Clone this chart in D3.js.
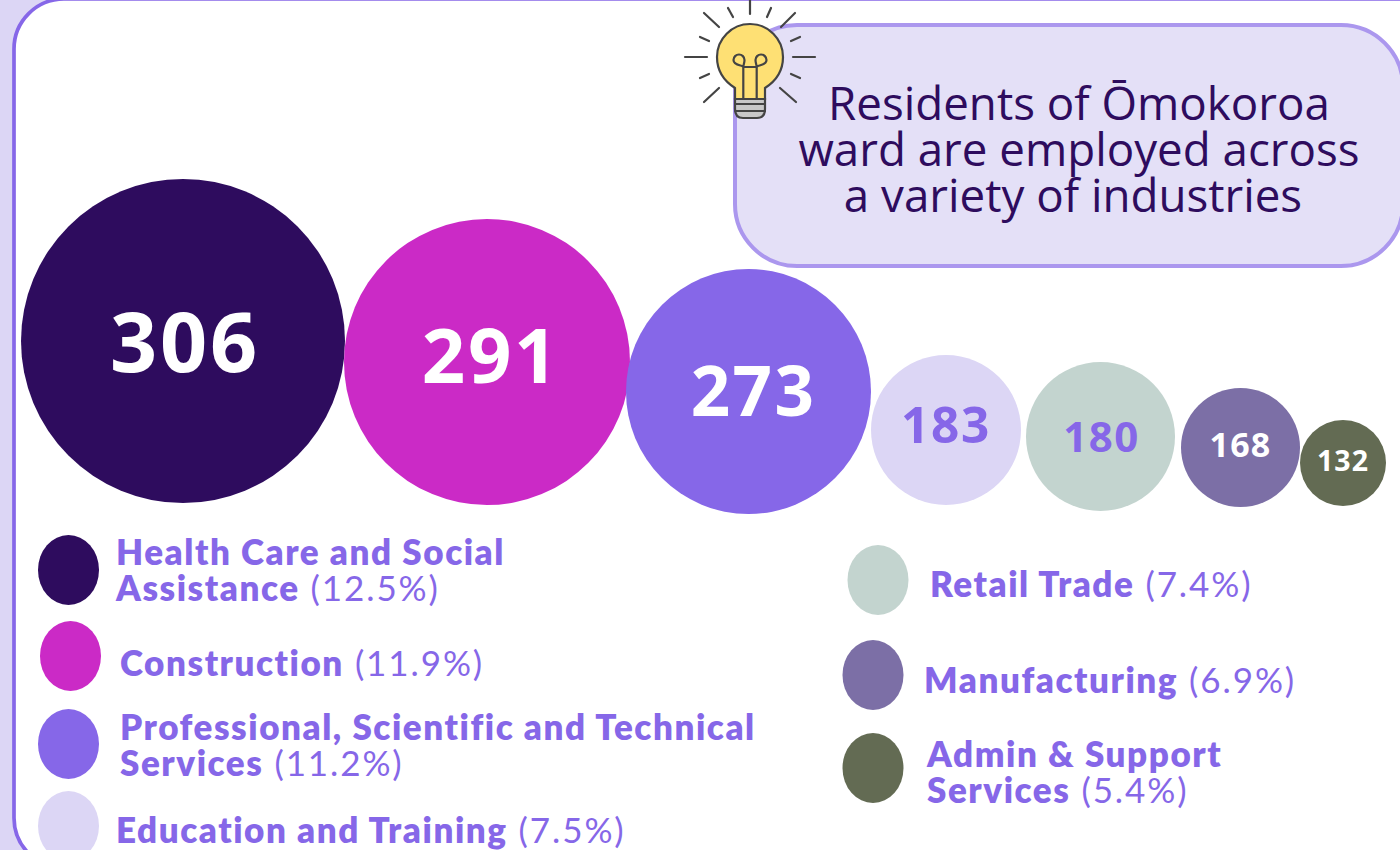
<!DOCTYPE html>
<html><head><meta charset="utf-8">
<script src="https://cdn.jsdelivr.net/npm/d3@7"></script>
<style>html,body{margin:0;padding:0;background:#fff;overflow:hidden}svg{display:block}text{font-family:Lato,"Open Sans",sans-serif}</style>
</head><body><svg id="c" width="1400" height="850"></svg>
<script>
const industries=["Health Care and Social Assistance","Construction","Professional, Scientific and Technical Services","Education and Training","Retail Trade","Manufacturing","Admin & Support Services"];
const counts=[306,291,273,183,180,168,132];
const shares=["12.5%","11.9%","11.2%","7.5%","7.4%","6.9%","5.4%"];
const colours=["#2e0c5e","#cb2ac6","#8667e8","#dcd6f5","#c3d4cf","#7c6fa6","#636b53"];
const numberColours=["#fff","#fff","#fff","#8667e8","#8667e8","#fff","#fff"];
const title=["Residents of Ōmokoroa","ward are employed across","a variety of industries"];
const legendLines=[["Health Care and Social","Assistance"],["Construction"],["Professional, Scientific and Technical","Services"],["Education and Training"],["Retail Trade"],["Manufacturing"],["Admin & Support","Services"]];

// layout helpers
const rScale=d3.scaleLinear().domain([132,168,180,183,273,291,306]).range([43,59.5,74.5,75,122.5,143,162]);
const gaps=[0,-1,-4,0,5,6,0], bottoms=[503,505,514,505,511,507,506];
const numSize=d3.scaleLinear().domain([132,168,180,183,273,291,306]).range([28.5,34,42,49.5,69,76,82.5]);
const numShift=[1,-6,0,-5,0,-3,-2];
const numDx=[2,4,5,0,1,0,0];
const legendPos=[[68.5,570,116,553],[70.5,656,120,663.5],[68.5,744,120,728],[68.5,826,116,830.5],[878,580,930,585],[873,675,924,681],[873,768,927,755]];

const svg=d3.select("#c");
svg.append("rect").attr("width",1400).attr("height",850).attr("fill","#dcd6f5");
svg.append("rect").attr("x",14).attr("y",-1).attr("width",1440).attr("height",869).attr("rx",50)
  .attr("fill","#fff").attr("stroke","#8667e8").attr("stroke-width",3.7);

// callout
svg.append("rect").attr("x",735).attr("y",25).attr("width",668).attr("height",241).attr("rx",62)
  .attr("fill","#e4e0f7").attr("stroke","#ab97ee").attr("stroke-width",4);
svg.append("g").selectAll("text").data(title).join("text")
  .attr("x",(d,i)=>[1079,1079,1073][i]).attr("y",(d,i)=>120+i*46).attr("text-anchor","middle")
  .attr("font-size",45.7).attr("fill","#2e0c5e").style("font-family","'Open Sans'").text(d=>d);

// bulb
const b=svg.append("g").attr("transform","translate(750,57)").attr("stroke","#444").attr("stroke-width",2.2).attr("fill","none").attr("stroke-linecap","round");
[[0,-57,0,-43],[-22,-49,-17,-40],[21,-49,17,-40],[-46,-44,-31,-30],[45,-44,31,-30],[-65,0,-43,0],[65,0,43,0],[-50,-20,-41,-16],[50,-20,41,-16],[-50,21,-41,17],[50,21,41,17],[-46,45,-31,31],[46,45,30,31]]
 .forEach(l=>b.append("line").attr("x1",l[0]).attr("y1",l[1]).attr("x2",l[2]).attr("y2",l[3]));
b.append("path").attr("fill","#fee074").attr("d","M-15,31 C-26,24 -33,13 -33,0 A33,33 0 1 1 33,0 C33,13 26,24 15,31 L15,42 L-15,42 Z");
b.append("path").attr("fill","#c8c8c8").attr("d","M-15,42 L15,42 L15,52 Q15,61 7,61 L-7,61 Q-15,61 -15,52 Z");
b.append("path").attr("d","M-15,47 H15 M-15,54 H15");
b.append("path").attr("d","M-6.7,42 V10 C-6.7,8 -16.5,9 -16.5,3 A5.5,5.5 0 0 1 -5.5,3 C-5.5,6 -6.7,8 -6.7,10 M6.7,42 V10 C6.7,8 16.5,9 16.5,3 A5.5,5.5 0 0 0 5.5,3 C5.5,6 6.7,8 6.7,10 M-6.7,10 H6.7");

// bubbles
let edge=21;
const nodes=counts.map((v,i)=>{const r=rScale(v);edge+=gaps[i];const cx=edge+r;edge+=2*r;return {v,r,cx,cy:bottoms[i]-r,i};});
const g=svg.append("g");
g.selectAll("circle").data(nodes).join("circle").attr("cx",d=>d.cx).attr("cy",d=>d.cy).attr("r",d=>d.r).attr("fill",d=>colours[d.i]);
g.selectAll("text").data(nodes).join("text").attr("x",d=>d.cx+numDx[d.i]).attr("y",d=>d.cy+numShift[d.i]).attr("dy","0.36em")
  .attr("text-anchor","middle").attr("font-weight",700).attr("font-size",d=>numSize(d.v)).attr("letter-spacing",d=>numSize(d.v)*0.035).attr("fill",d=>numberColours[d.i])
  .style("font-family","'Open Sans'").text(d=>d.v);

// legend
const lg=svg.append("g").selectAll("g").data(industries).join("g");
lg.append("ellipse").attr("cx",(d,i)=>legendPos[i][0]).attr("cy",(d,i)=>legendPos[i][1]).attr("rx",30.5).attr("ry",35).attr("fill",(d,i)=>colours[i]);
lg.each(function(d,i){
  const t=d3.select(this).append("text").attr("font-size",35).attr("fill","#8667e8");
  const lines=legendLines[i], p=legendPos[i];
  lines.forEach((ln,k)=>{
    const y=p[3]+k*36;
    t.append("tspan").attr("x",p[2]).attr("y",y+12).attr("font-weight",800).attr("letter-spacing",1.55).text(ln);
    if(k===lines.length-1) t.append("tspan").attr("font-weight",400).attr("letter-spacing",1.9).attr("dx",11).text("("+shares[i]+")");
  });
});
</script></body></html>
